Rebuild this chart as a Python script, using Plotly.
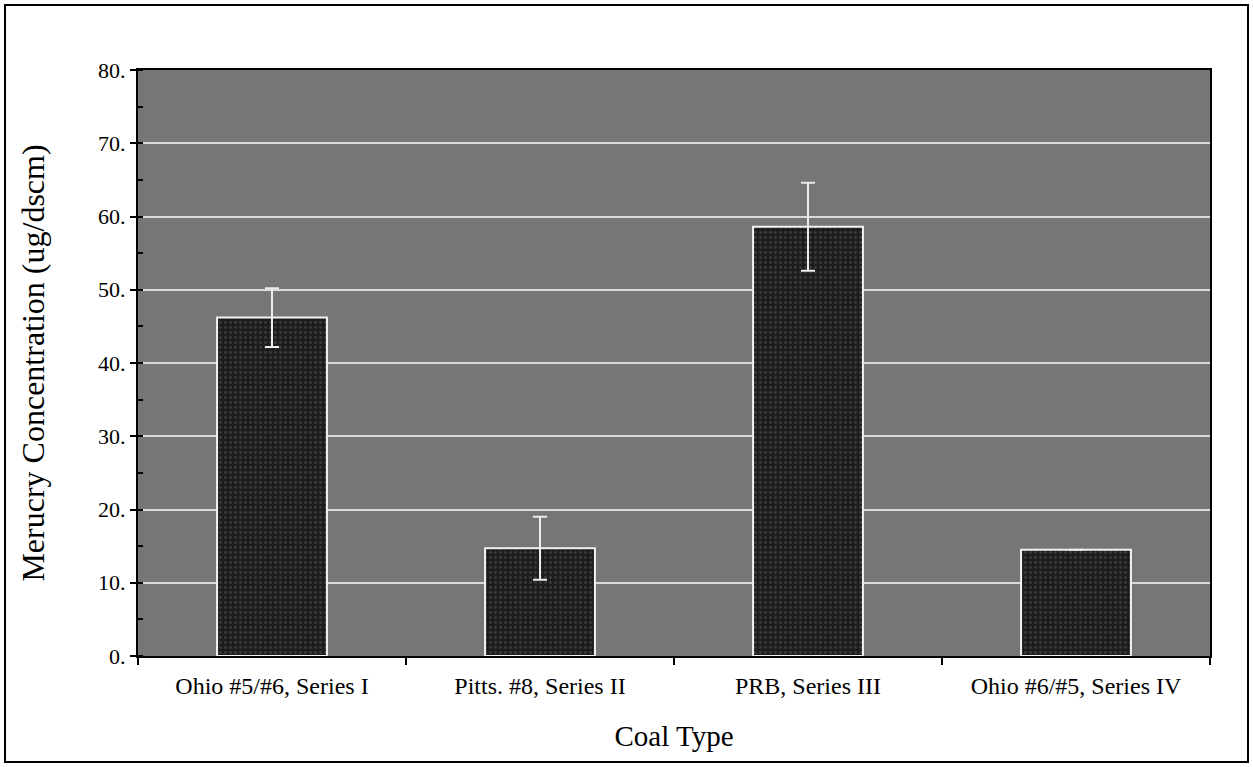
import plotly.graph_objects as go

# Mercury concentration by coal type
coal_types = ["Ohio #5/#6, Series I", "Pitts. #8, Series II", "PRB, Series III", "Ohio #6/#5, Series IV"]
mercury = [46.2, 14.7, 58.6, 14.5]
mercury_err = [4.0, 4.3, 6.0, 0.0]
y_ticks = [0, 10, 20, 30, 40, 50, 60, 70, 80]

serif = "Liberation Serif, Times New Roman, serif"

fig = go.Figure()
fig.add_trace(go.Bar(
    x=coal_types,
    y=mercury,
    width=0.41,
    marker=dict(
        color="#1c1c1c",
        line=dict(color="#f2f2f2", width=2),
        pattern=dict(shape=".", fgcolor="#5a5a5a", bgcolor="#1c1c1c", size=5, solidity=0.25),
    ),
    error_y=dict(type="data", array=mercury_err, visible=True,
                 color="#ececec", thickness=2, width=7),
    showlegend=False,
))

fig.update_layout(
    width=1253, height=767,
    margin=dict(l=138, r=43, t=70, b=111),
    paper_bgcolor="white",
    plot_bgcolor="#767676",
    font=dict(family=serif, color="black", size=16),
    bargap=0.59,
    xaxis=dict(
        title=dict(text="Coal Type", font=dict(size=29, family=serif), standoff=28),
        tickfont=dict(size=24, family=serif),
        ticklabelstandoff=7,
        automargin=False,
        showline=True, linecolor="black", linewidth=2, mirror=True,
        ticks="outside", tickson="boundaries", ticklen=7, tickcolor="black", tickwidth=2,
        showgrid=False,
    ),
    yaxis=dict(
        title=dict(text="Merucry Concentration (ug/dscm)", font=dict(size=32, family=serif), standoff=44),
        automargin=False,
        range=[0, 80],
        tickvals=y_ticks,
        ticktext=[f"{v}." for v in y_ticks],
        tickfont=dict(size=22, family=serif),
        showline=True, linecolor="black", linewidth=2, mirror=True,
        ticks="outside", ticklen=6, tickcolor="black", tickwidth=2,
        minor=dict(dtick=5, ticks="inside", ticklen=5, tickcolor="black", showgrid=False),
        showgrid=True, gridcolor="#d9d9d9", gridwidth=2,
        zeroline=False,
    ),
)

# Frame around the whole figure
fig.add_shape(type="rect", xref="paper", yref="paper",
              x0=-133 / 1072, x1=1 + 38 / 1072, y0=-106 / 586, y1=1 + 65 / 586,
              line=dict(color="black", width=2), layer="below")

fig.write_html("out.html")
